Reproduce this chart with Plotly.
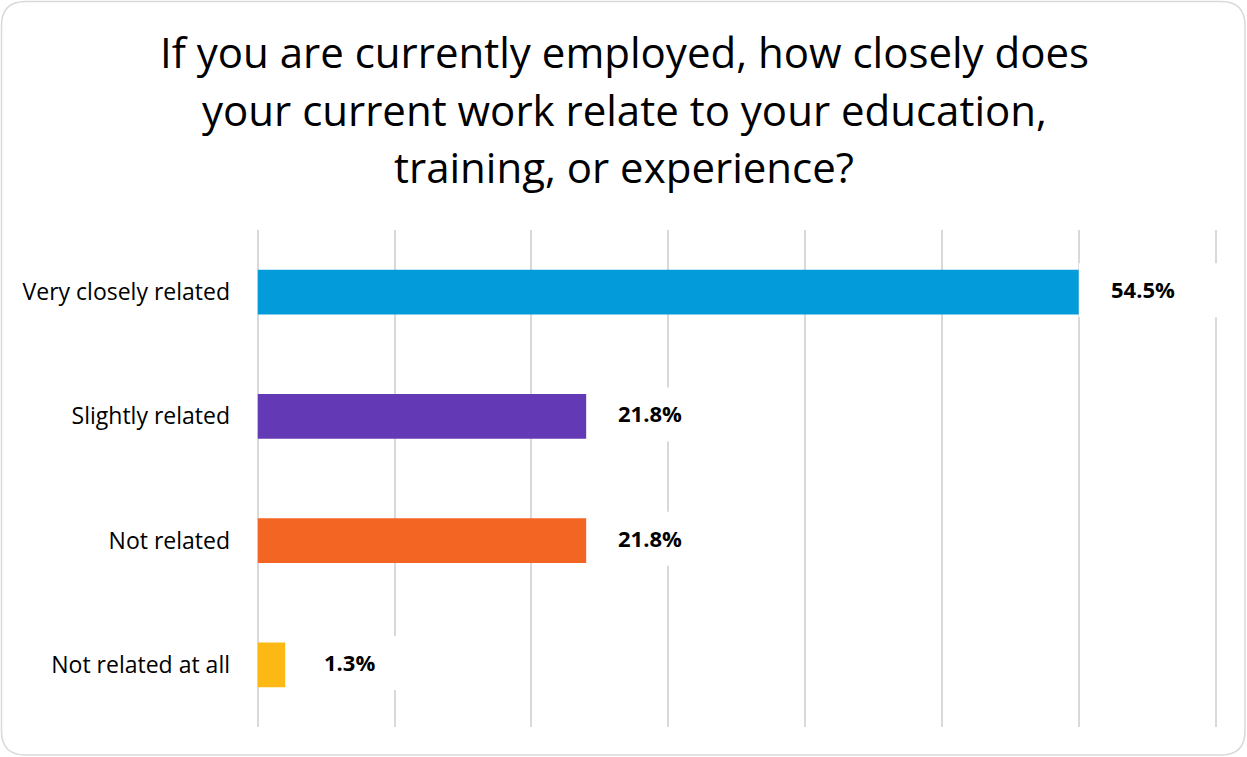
import plotly.graph_objects as go

categories = ["Very closely related", "Slightly related", "Not related", "Not related at all"]
counts = [30, 12, 12, 1]
labels = ["54.5%", "21.8%", "21.8%", "1.3%"]
colors = ["#039BDA", "#6439B6", "#F26522", "#FDB913"]
title_lines = ["If you are currently employed, how closely does",
               "your current work relate to your education,",
               "training, or experience?"]

W, H = 1247, 757
ML, MR, MT, MB = 257, 26, 230, 30
PW, PH = W - ML - MR, H - MT - MB

fig = go.Figure()
fig.add_trace(go.Bar(
    y=categories, x=counts, orientation="h",
    marker=dict(color=colors, line=dict(width=0)),
    width=0.36, hoverinfo="skip", showlegend=False,
))

box_w = [142, 100, 125, 125]
for i, (c, lab) in enumerate(zip(counts, labels)):
    fig.add_shape(type="rect", layer="between", xref="x", yref="y",
                  xsizemode="pixel", ysizemode="pixel",
                  xanchor=c, yanchor=i, x0=0, x1=box_w[i], y0=-25, y1=29,
                  fillcolor="white", line=dict(width=0))
    fig.add_annotation(x=c, y=categories[i], text="<b>" + lab + "</b>",
                       showarrow=False, xanchor="center", xshift=64, yshift=3,
                       font=dict(family="Open Sans", size=22, color="#000000"))

def px2paper(px, py):
    return (px - ML) / PW, (H - MB - py) / PH

def P(px, py):
    a, b = px2paper(px, py)
    return f"{a:.5f},{b:.5f}"

# rounded border around the whole chart
x0p, y0p, x1p, y1p, r = 1.5, 1.5, W - 2, H - 2, 24
path = (f"M {P(x0p + r, y0p)} L {P(x1p - r, y0p)} Q {P(x1p, y0p)} {P(x1p, y0p + r)} "
        f"L {P(x1p, y1p - r)} Q {P(x1p, y1p)} {P(x1p - r, y1p)} "
        f"L {P(x0p + r, y1p)} Q {P(x0p, y1p)} {P(x0p, y1p - r)} "
        f"L {P(x0p, y0p + r)} Q {P(x0p, y0p)} {P(x0p + r, y0p)} Z")
fig.add_shape(type="path", path=path, xref="paper", yref="paper",
              line=dict(color="#D9D9D9", width=1.5), layer="above")

for line, cy in zip(title_lines, [51, 109, 167]):
    tx, ty = px2paper(624, cy)
    fig.add_annotation(text=line, x=tx, y=ty, xref="paper", yref="paper",
                       xanchor="center", yanchor="middle", showarrow=False,
                       font=dict(family="Open Sans", size=42, color="#000000"))

fig.update_layout(
    width=W, height=H,
    margin=dict(l=ML, r=MR, t=MT, b=MB),
    paper_bgcolor="white", plot_bgcolor="white",
    xaxis=dict(range=[-0.03, 35.2], dtick=5, showgrid=True, gridcolor="#D9D9D9",
               gridwidth=1.5, showticklabels=False, zeroline=True,
               zerolinecolor="#D9D9D9", zerolinewidth=1.5,
               showline=False, fixedrange=True),
    yaxis=dict(autorange="reversed", showgrid=False, zeroline=False,
               showline=False, ticks="", ticklabelstandoff=26,
               tickfont=dict(family="Open Sans", size=23, color="#000000")),
    bargap=0.64,
)

fig.write_html("out.html", config={"displayModeBar": False},
               post_script="document.body.style.margin='0';document.body.style.padding='0';")
